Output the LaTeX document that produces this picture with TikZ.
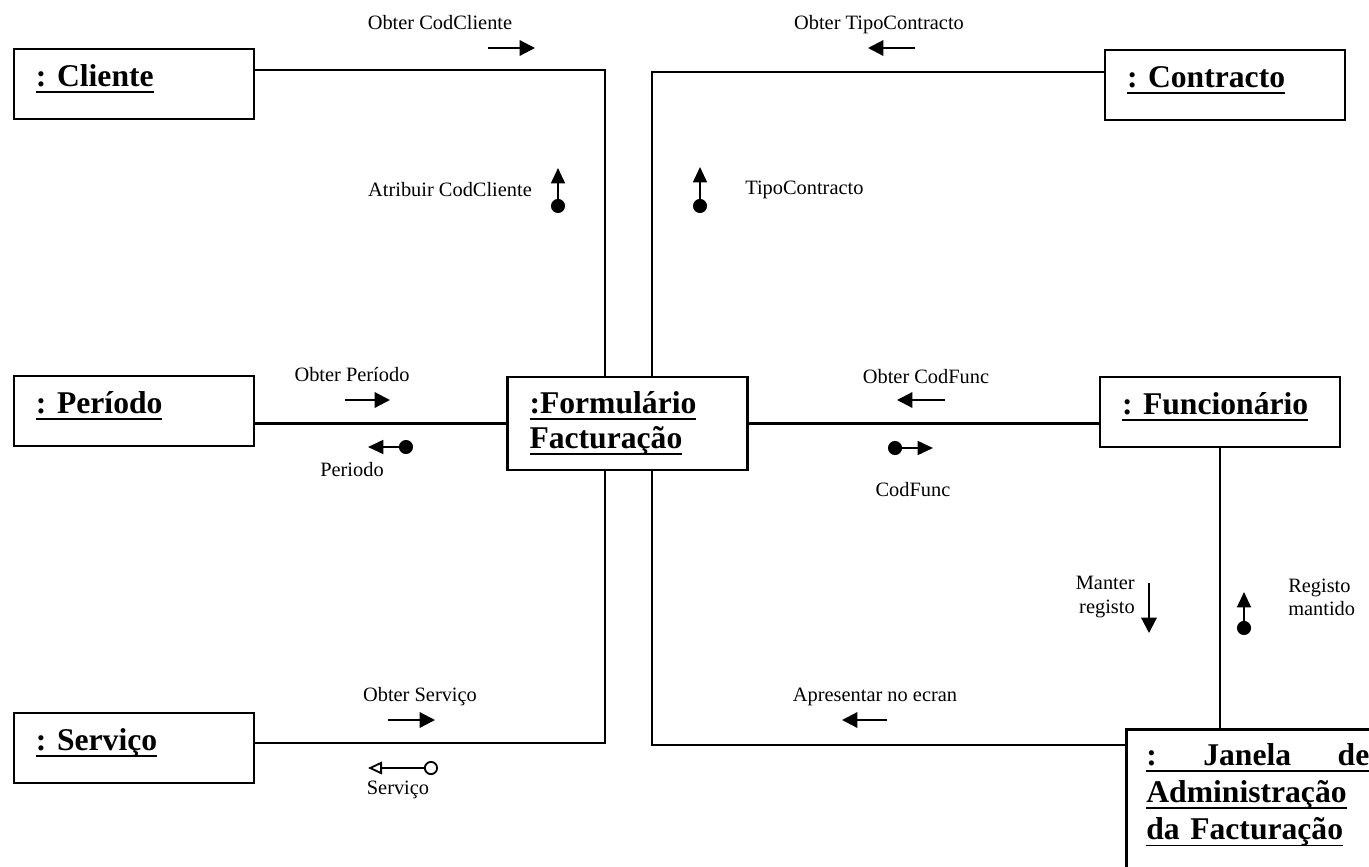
\documentclass[tikz,border=0pt]{standalone}
\usepackage{fontspec}
\setmainfont{Liberation Serif}
\usetikzlibrary{arrows.meta,calc}
\newcommand{\sublinhado}[1]{\leavevmode\setbox0\hbox{#1}\rlap{\rule[-4.5pt]{\wd0}{1.2pt}}\box0}
\tikzset{
  caixa/.style={draw,line width=1.9pt,align=left,inner xsep=5.5mm,text width=49mm,font=\fontsize{22.5}{25}\selectfont\bfseries\frenchspacing},
  objeto/.style={caixa,inner ysep=0pt,text height=27pt,text depth=23pt},
  ligacao/.style={line width=1.6pt},
  msg/.style={line width=1.6pt,-{Triangle[length=11pt,width=11pt]}},
  fluxo/.style={line width=1.3pt,{Circle[length=10pt]}-{Triangle[length=11pt,width=10pt]}},
  fluxoaberto/.style={line width=1.3pt,{Circle[open,length=10pt]}-{Triangle[open,length=10pt,width=9pt]}},
  rotulo/.style={font=\fontsize{14.5}{16.5}\selectfont,inner sep=0pt}
}
\begin{document}
\begin{tikzpicture}[x=0.25mm,y=-0.25mm]
\useasboundingbox (0,0) rectangle (1369,866);
% objectos
\node[objeto] (cli) at (134,84) {\sublinhado{: Cliente}};
\node[objeto] (con) at (1225,85) {\sublinhado{: Contracto}};
\node[objeto] (per) at (134,411) {\sublinhado{: Período}};
\node[objeto] (fun) at (1220,412) {\sublinhado{: Funcionário}};
\node[objeto] (ser) at (134,748) {\sublinhado{: Serviço}};
\node[caixa,minimum height=23.25mm] (form) at (627.5,423.5) {\sublinhado{:Formulário}\\\sublinhado{Facturação}};
\node[caixa,anchor=north west,inner xsep=5mm,inner ysep=10pt,text width=55.75mm,font=\fontsize{22.5}{26.5}\selectfont\bfseries] (jan) at (1125,728)
  {\sublinhado{\makebox[55.75mm]{:\hfill Janela\hfill de}}\\\sublinhado{Administração}\\\sublinhado{da Facturação}\rule[-60pt]{0pt}{60pt}};
% ligacoes
\draw[ligacao] ($(cli.east)+(0,-14)$) -| ($(form.north)+(-22.5,0)$);
\draw[ligacao] ($(con.west)+(0,-13)$) -| ($(form.north)+(24.5,0)$);
\draw[ligacao] (per.east |- form.west) -- (form.west);
\draw[ligacao] (form.east) -- (form.east -| fun.west);
\draw[ligacao] ($(ser.east)+(0,-5)$) -| ($(form.south)+(-22.5,0)$);
\draw[ligacao] ($(form.south)+(24.5,0)$) |- ($(jan.north west)+(0,17)$);
\draw[ligacao] (fun.south) -- (fun.south |- jan.north);
% mensagens
\node[rotulo] (m1) at (440,23) {Obter CodCliente};
\draw[msg] (488,48) -- (535,48);
\node[rotulo] (m2) at (879,25) {Obter TipoContracto};
\draw[msg] (915,48) -- (868,48);
\node[rotulo] (m3) at (352,375) {Obter Período};
\draw[msg] (345,400) -- (390,400);
\node[rotulo] (m4) at (926,377) {Obter CodFunc};
\draw[msg] (945,400) -- (897,400);
\node[rotulo,anchor=east,align=right] (m5) at (1135,597) {Manter\\registo};
\draw[msg] (1149,583) -- (1149,633);
\node[rotulo] (m6) at (420,697) {Obter Serviço};
\draw[msg] (388,720) -- (435,720);
\node[rotulo] (m7) at (875,697) {Apresentar no ecran};
\draw[msg] (887,720) -- (842,720);
% dados
\node[rotulo] (d1) at (450,190) {Atribuir CodCliente};
\draw[fluxo] (558,213) -- (558,168);
\node[rotulo,anchor=west] (d2) at (745,190) {TipoContracto};
\draw[fluxo] (700,213) -- (700,167);
\node[rotulo] (d3) at (352,470) {Periodo};
\draw[fluxo] (413,447) -- (368,447);
\node[rotulo] (d4) at (913,490) {CodFunc};
\draw[fluxo] (888,448) -- (933,448);
\node[rotulo,anchor=west,align=left] (d5) at (1288,597) {Registo\\mantido};
\draw[fluxo] (1244,635) -- (1244,592);
\node[rotulo] (d6) at (398,790) {Serviço};
\draw[fluxoaberto] (438,768) -- (368,768);
\end{tikzpicture}
\end{document}
